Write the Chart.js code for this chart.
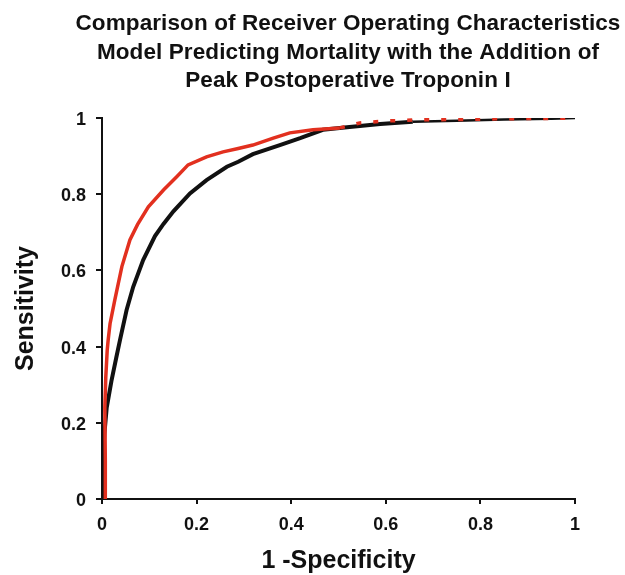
<!DOCTYPE html>
<html>
<head>
<meta charset="utf-8">
<script src="https://cdn.jsdelivr.net/npm/chart.js@4.4.1/dist/chart.umd.min.js"></script>
<style>
  html, body { margin: 0; padding: 0; background: #fff; }
  #wrap { width: 625px; height: 575px; }
</style>
</head>
<body>
<div id="wrap"><canvas id="rocChart" width="625" height="575"></canvas></div>
<script>
const titleLines = [
  'Comparison of Receiver Operating Characteristics',
  'Model Predicting Mortality with the Addition of',
  'Peak Postoperative Troponin I'
];
const tickLabels = ['0', '0.2', '0.4', '0.6', '0.8', '1'];

// model with peak troponin I (red)
const redFpr = [0.008, 0.007, 0.006, 0.008, 0.011, 0.013, 0.017, 0.027, 0.042, 0.059, 0.075, 0.098, 0.13, 0.158, 0.182, 0.221, 0.256, 0.288, 0.319, 0.362, 0.397, 0.446, 0.503, 0.545, 0.60, 0.657, 0.75, 0.85, 0.95, 1];
const redTpr = [0, 0.1, 0.24, 0.32, 0.39, 0.417, 0.46, 0.522, 0.61, 0.68, 0.72, 0.767, 0.811, 0.846, 0.877, 0.898, 0.911, 0.92, 0.929, 0.947, 0.961, 0.969, 0.974, 0.987, 0.992, 0.995, 0.996, 0.998, 0.999, 1];

// base model (black)
const blackFpr = [0, 0.001, 0.005, 0.01, 0.02, 0.03, 0.038, 0.052, 0.066, 0.087, 0.112, 0.13, 0.151, 0.186, 0.221, 0.264, 0.288, 0.319, 0.376, 0.419, 0.467, 0.518, 0.588, 0.657, 0.75, 0.85, 0.95, 1];
const blackTpr = [0, 0.084, 0.17, 0.24, 0.31, 0.37, 0.417, 0.496, 0.557, 0.627, 0.69, 0.722, 0.755, 0.802, 0.837, 0.872, 0.885, 0.905, 0.929, 0.947, 0.969, 0.976, 0.984, 0.99, 0.993, 0.996, 0.998, 1];

const toPoints = (xs, ys) => xs.map((x, i) => ({ x: x, y: ys[i] }));

const font = 'Liberation Sans, Arial, Helvetica, sans-serif';

const titlePlugin = {
  id: 'multiTitle',
  afterDraw(chart) {
    const c = chart.ctx;
    c.save();
    c.font = 'bold 22.5px ' + font;
    if ('letterSpacing' in c) c.letterSpacing = '0.1px';
    c.fillStyle = '#111';
    c.textAlign = 'center';
    c.textBaseline = 'alphabetic';
    titleLines.forEach((t, i) => c.fillText(t, 348, 30 + i * 28.5));
    c.restore();
  }
};

new Chart(document.getElementById('rocChart'), {
  type: 'scatter',
  data: {
    datasets: [
      {
        label: 'Model + Peak Troponin I',
        data: toPoints(redFpr, redTpr),
        showLine: true,
        borderColor: '#e2301f',
        borderWidth: 3.5,
        pointRadius: 0,
        tension: 0,
        segment: {
          borderDash: ctx => ctx.p0.parsed.x >= 0.5 ? [5, 12] : undefined
        }
      },
      {
        label: 'Model',
        data: toPoints(blackFpr, blackTpr),
        showLine: true,
        borderColor: '#111',
        borderWidth: 4,
        pointRadius: 0,
        tension: 0,
        segment: {
          borderWidth: ctx => ctx.p0.parsed.x >= 0.6 ? 2.5 : undefined
        }
      }
    ]
  },
  options: {
    responsive: false,
    animation: false,
    layout: { padding: { top: 118, right: 50, left: 0, bottom: 0 } },
    plugins: {
      legend: { display: false },
      tooltip: { enabled: false }
    },
    scales: {
      x: {
        type: 'linear',
        min: 0,
        max: 1,
        afterFit: s => { s.height = 76; },
        border: { display: true, color: '#111', width: 2 },
        grid: { drawOnChartArea: false, drawTicks: true, tickLength: 5, color: '#111', lineWidth: 2 },
        ticks: {
          stepSize: 0.2,
          padding: 10,
          color: '#111',
          font: { family: font, size: 18, weight: 'bold' },
          callback: (v, i) => tickLabels[i]
        },
        title: {
          display: true,
          text: '1 -Specificity',
          color: '#111',
          font: { family: font, size: 25, weight: 'bold', lineHeight: 1.1 },
          padding: { top: 0, bottom: 0 }
        }
      },
      y: {
        type: 'linear',
        min: 0,
        max: 1,
        afterFit: s => { s.width = 102; },
        border: { display: true, color: '#111', width: 2 },
        grid: { drawOnChartArea: false, drawTicks: true, tickLength: 6, color: '#111', lineWidth: 2 },
        ticks: {
          stepSize: 0.2,
          padding: 10,
          labelOffset: 2,
          color: '#111',
          font: { family: font, size: 18, weight: 'bold' },
          callback: (v, i) => tickLabels[i]
        },
        title: {
          display: true,
          text: 'Sensitivity',
          color: '#111',
          font: { family: font, size: 25, weight: 'bold', lineHeight: 1.1 },
          padding: { top: 12.5, bottom: 0 }
        }
      }
    }
  },
  plugins: [titlePlugin]
});
</script>
</body>
</html>
